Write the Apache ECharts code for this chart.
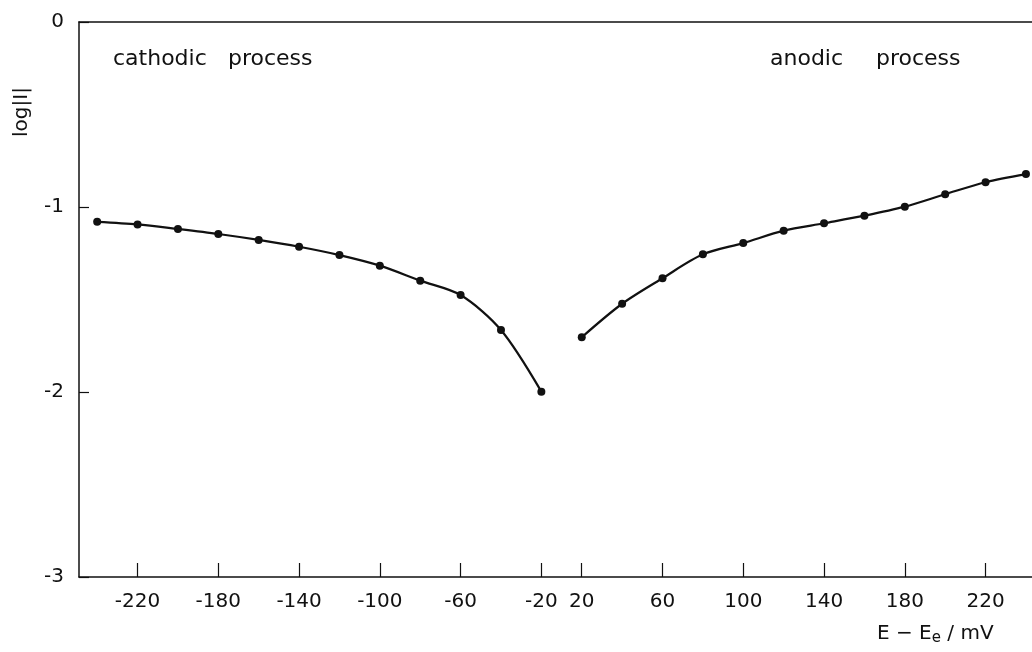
<!DOCTYPE html>
<html>
<head>
<meta charset="utf-8">
<script src="https://cdn.jsdelivr.net/npm/echarts@6/dist/echarts.min.js"></script>
<style>
  html, body { margin: 0; padding: 0; background: #fff; }
  #c { width: 1032px; height: 652px; }
</style>
</head>
<body>
<div id="c"></div>
<script>
// potential E - Ee (mV) and log|I|
const cathodicE = [-240, -220, -200, -180, -160, -140, -120, -100, -80, -60, -40, -20]
const cathodicLogI = [-1.08, -1.094, -1.119, -1.146, -1.178, -1.215, -1.26, -1.317, -1.398, -1.476, -1.665, -1.998]
const anodicE = [20, 40, 60, 80, 100, 120, 140, 160, 180, 200, 220, 240]
const anodicLogI = [-1.704, -1.523, -1.385, -1.256, -1.195, -1.128, -1.088, -1.047, -0.998, -0.931, -0.866, -0.822]
const xTickLabels = [-220, -180, -140, -100, -60, -20, 20, 60, 100, 140, 180, 220]

// the axis is broken between -20 and +20: that span is drawn as 20 mV
const GAP = 20
const toAxis = e => (e > 0 ? e - GAP : e)
const fromAxis = v => (v >= 0 ? v + GAP : v)

const FONT = 'DejaVu Sans'
const INK = '#111'
const X_MIN = -249
const X_MAX = 223

const chart = echarts.init(document.getElementById('c'))

const lineSeries = (xs, ys) => ({
  type: 'line',
  data: xs.map((x, i) => [toAxis(x), ys[i]]),
  smooth: 0.3,
  symbol: 'circle',
  symbolSize: 8,
  lineStyle: { color: INK, width: 2.2 },
  itemStyle: { color: INK },
  emphasis: { disabled: true },
  animation: false,
})

chart.setOption({
  backgroundColor: '#fff',
  textStyle: { fontFamily: FONT },
  grid: { left: 79, right: 0, top: 22, bottom: 75 },
  xAxis: [
    {
      type: 'value',
      position: 'bottom',
      min: X_MIN,
      max: X_MAX,
      axisLine: { show: true, onZero: false, lineStyle: { color: INK, width: 1.5 } },
      axisTick: {
        show: true,
        inside: true,
        length: 14,
        customValues: xTickLabels.map(toAxis),
        lineStyle: { color: INK, width: 1.2 },
      },
      axisLabel: {
        show: true,
        customValues: xTickLabels.map(toAxis),
        formatter: v => String(fromAxis(v)),
        color: INK,
        fontSize: 20,
        fontFamily: FONT,
        margin: 15,
      },
      splitLine: { show: false },
    },
    {
      type: 'value',
      position: 'top',
      min: X_MIN,
      max: X_MAX,
      axisLine: { show: true, onZero: false, lineStyle: { color: INK, width: 1.5 } },
      axisTick: { show: false },
      axisLabel: { show: false },
      splitLine: { show: false },
    },
  ],
  yAxis: {
    type: 'value',
    position: 'left',
    min: -3,
    max: 0,
    interval: 1,
    axisLine: { show: true, onZero: false, lineStyle: { color: INK, width: 1.5 } },
    axisTick: { show: true, inside: true, length: 10, lineStyle: { color: INK, width: 1.2 } },
    axisLabel: {
      color: INK,
      fontSize: 20,
      fontFamily: FONT,
      margin: 15,
      padding: [5, 0, 0, 0],
    },
    splitLine: { show: false },
  },
  series: [
    lineSeries(cathodicE, cathodicLogI),
    lineSeries(anodicE, anodicLogI),
  ],
  graphic: [
    { type: 'text', left: 113, top: 48, style: { text: 'cathodic', font: `22px "${FONT}"`, fill: INK } },
    { type: 'text', left: 228, top: 48, style: { text: 'process', font: `22px "${FONT}"`, fill: INK } },
    { type: 'text', left: 770, top: 48, style: { text: 'anodic', font: `22px "${FONT}"`, fill: INK } },
    { type: 'text', left: 876, top: 48, style: { text: 'process', font: `22px "${FONT}"`, fill: INK } },
    {
      type: 'text',
      x: 22,
      y: 112,
      rotation: Math.PI / 2,
      style: { text: 'log|I|', font: `20px "${FONT}"`, fill: INK, align: 'center', verticalAlign: 'middle' },
    },
    {
      type: 'text',
      left: 877,
      top: 624,
      style: {
        text: '{n|E − E}{s|e}{n| / mV}',
        fill: INK,
        rich: {
          n: { fontSize: 20, fontFamily: FONT, color: INK },
          s: { fontSize: 15, fontFamily: FONT, color: INK, padding: [8, 0, 0, 0] },
        },
      },
    },
  ],
})
</script>
</body>
</html>
